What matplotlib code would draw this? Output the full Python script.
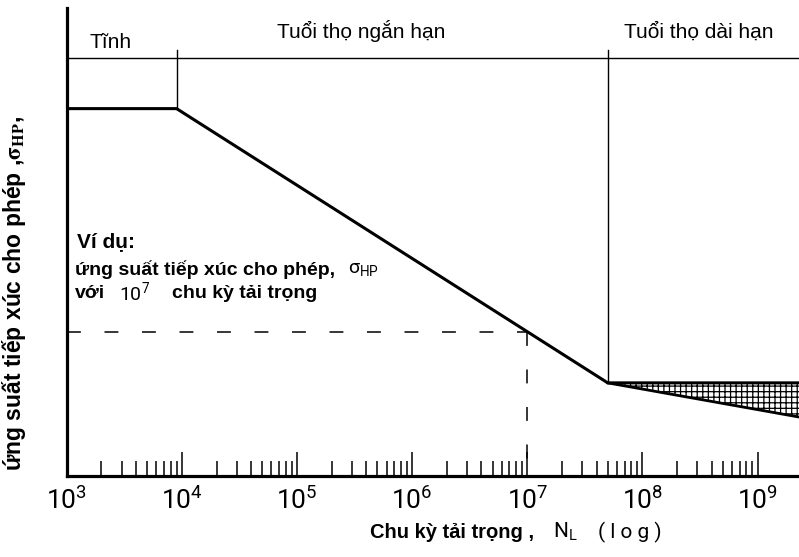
import numpy as np
import matplotlib
matplotlib.use("Agg")
import matplotlib.pyplot as plt

plt.rcParams['font.family'] = ['Liberation Sans', 'DejaVu Sans']
plt.rcParams['mathtext.fontset'] = 'stix'
plt.rcParams['hatch.linewidth'] = 0.9
plt.rcParams['lines.scale_dashes'] = False

THIN = ['Roboto', 'Liberation Sans', 'DejaVu Sans']

# S-N curve (stress in relative units, cycles on log scale)
N_min, N_max = 1e3, 10 ** 9.36
N_static = 9e3          # end of static range
N_endur = 5e7           # start of long-life range
S_static = 78.5
S_endur = 19.9
S_endur_low = 12.6      # lower bound of the scatter band at N_max
S_top = 89.3            # top border of the range headers
S_div_top = 91.0
N_example = 1e7

decades = [3, 4, 5, 6, 7, 8, 9]
tick_labels = [r"$\mathregular{10^{%d}}$" % d for d in decades]
range_names = ["Tĩnh", "Tuổi thọ ngắn hạn", "Tuổi thọ dài hạn"]
range_pos = [(2.4e3, 91.5), (3.6e5, 93.6), (3.06e8, 93.6)]

W, H = 799, 557
fig = plt.figure(figsize=(W / 100, H / 100), dpi=100)
ax = fig.add_axes([66.7 / W, 81 / H, (W - 66.7) / W, 468 / H])
ax.set_xscale('log')
ax.set_xlim(N_min, N_max)
ax.set_ylim(0, 100)

for s in ['top', 'right']:
    ax.spines[s].set_visible(False)
for s in ['left', 'bottom']:
    ax.spines[s].set_linewidth(2.3)
ax.set_yticks([])

major = [10.0 ** d for d in decades]
minor = [m * 10.0 ** d for d in decades[:-1] for m in range(2, 10)]
ax.set_xticks(major, tick_labels)
ax.set_xticks(minor, minor=True)
ax.xaxis.set_minor_formatter(matplotlib.ticker.NullFormatter())
ax.tick_params(axis='x', which='major', direction='in', length=17, width=1.1,
               pad=8, labelsize=19)
ax.tick_params(axis='x', which='minor', direction='in', length=11, width=1.1)
for lab in ax.get_xticklabels():
    lab.set_fontfamily(THIN)

# header lines
ax.plot([N_min, N_max], [S_top, S_top], color='black', lw=1.0)
ax.plot([N_static, N_static], [S_static, S_div_top], color='black', lw=1.0)
ax.plot([N_endur, N_endur], [S_endur, S_div_top], color='black', lw=1.0)

# curve
ax.plot([N_min, N_static, N_endur, N_max],
        [S_static, S_static, S_endur, S_endur], color='black', lw=2.2,
        solid_joinstyle='miter')
ax.plot([N_endur, N_max], [S_endur, S_endur_low], color='black', lw=2.0)
ax.fill_between([N_endur, N_max], [S_endur, S_endur_low], [S_endur, S_endur],
                facecolor='white', edgecolor='black', hatch='+++', linewidth=0)

# example at 10^7 cycles
slope = (S_endur - S_static) / (np.log10(N_endur) - np.log10(N_static))
S_example = S_static + slope * (np.log10(N_example) - np.log10(N_static))
ax.plot([N_min, N_example], [S_example, S_example], color='black', lw=1.1,
        dashes=(10, 17))
ax.plot([N_example, N_example], [S_example, 0], color='black', lw=1.1,
        dashes=(10, 17))

for name, (x, y) in zip(range_names, range_pos):
    ax.text(x, y, name, fontsize=15, ha='center', va='baseline')

def fx(px):
    return px / W

def fy(py):
    return 1 - py / H

fig.text(fx(77), fy(247), "Ví dụ:", fontsize=15, fontweight='bold', va='baseline')
fig.text(fx(75), fy(275), "ứng suất tiếp xúc cho phép,", fontsize=14,
         fontweight='bold', va='baseline')
fig.text(fx(348), fy(273), r"$\mathregular{\sigma_{HP}}$", fontsize=14,
         fontfamily=THIN, va='baseline')
fig.text(fx(75), fy(298), "với", fontsize=14, fontweight='bold', va='baseline')
fig.text(fx(119), fy(300), r"$\mathregular{10^{7}}$", fontsize=14,
         fontfamily=THIN, va='baseline')
fig.text(fx(172), fy(298), "chu kỳ tải trọng", fontsize=14,
         fontweight='bold', va='baseline')

# axis titles
ax.set_ylabel(r"ứng suất tiếp xúc cho phép ,$\mathbf{\sigma}_{\mathbf{HP}}$,",
              fontsize=16.5, fontweight='bold')
ax.yaxis.set_label_coords(-(66.7 - 28) / (W - 66.7), (476 - 294) / 468)
fig.text(fx(370), fy(538), "Chu kỳ tải trọng ,", fontsize=14.5,
         fontweight='bold', va='baseline')
fig.text(fx(553), fy(538), r"$\mathregular{N_L}$", fontsize=15,
         fontfamily=THIN, va='baseline')
fig.text(fx(598), fy(538), "( l o g )", fontsize=15, fontfamily=THIN,
         va='baseline')

fig.savefig("out.png", dpi=100)
